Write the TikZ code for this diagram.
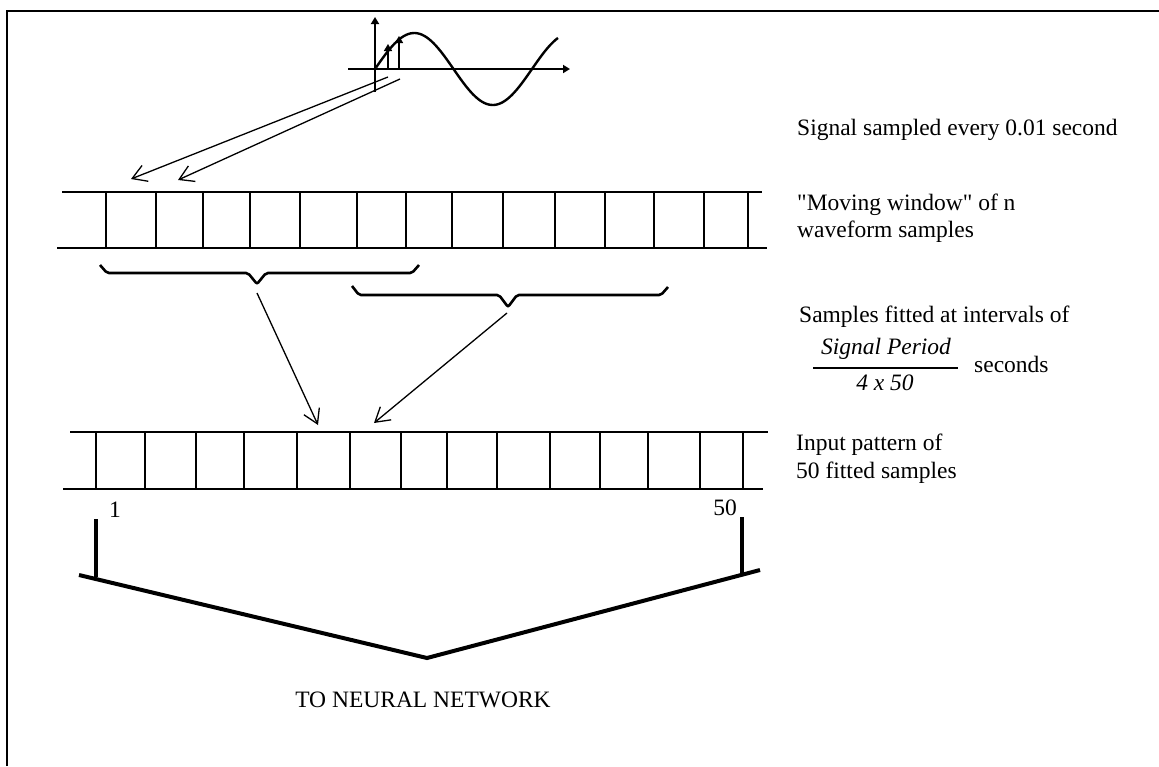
\documentclass[tikz,border=0pt]{standalone}
\usepackage{fontspec}
\setmainfont{Liberation Serif}
\usetikzlibrary{arrows.meta,calc}

\begin{document}
\begin{tikzpicture}[x=1pt, y=-1pt,
  lbl/.style={font=\fontsize{23.5}{27}\selectfont, inner sep=0pt, anchor=base west},
  frac/.style={lbl, font=\fontsize{23.5}{27}\selectfont\itshape, anchor=base},
  band/.style={line width=1.8pt},
  cell/.style={line width=1.6pt},
  barb/.style={-{Straight Barb[length=14pt,width=17pt]}, line width=1.3pt},
  axis/.style={-{Triangle[length=7pt,width=8pt]}, line width=2.4pt},
  brc/.style={line width=2.6pt, rounded corners=2pt},
  feed/.style={line width=4pt},
]
  \useasboundingbox (0,0) rectangle (1159,766);
  \draw[line width=2.4pt] (7,766) -- (7,11) -- (1159,11);

  % sampled signal
  \draw[axis] (348,69) -- (570,69);
  \draw[axis, line width=1.8pt] (375,92) -- (375,17);
  \draw[line width=2.4pt, domain=376:558, samples=80, smooth] plot (\x, {69-36*sin((\x-375)/157*360)});
  \draw[axis, line width=1.6pt] (388,69) -- (388,44);
  \draw[axis, line width=1.6pt] (399,69) -- (399,36);

  \coordinate (s1) at (388,77);
  \coordinate (s2) at (400,79);
  \coordinate (w1) at (131,179);
  \coordinate (w2) at (178,180);
  \draw[barb] (s1) -- (w1);
  \draw[barb] (s2) -- (w2);

  % moving window
  \draw[band] (62,192) -- (762,192);
  \draw[band] (57,248) -- (767,248);
  \foreach \cx in {106,156,203,250,300,357,406,452,503,555,605,654,704,748}
    \draw[cell] (\cx,192) -- (\cx,248);

  % braces
  \draw[brc] (100,265) -- (107,273) -- (248,273) -- (257,284) -- (266,273) -- (412,273) -- (419,265);
  \draw[brc] (352,286) -- (359,295) -- (499,295) -- (508,307) -- (517,295) -- (661,295) -- (668,287);
  \coordinate (b1) at (257,293);
  \coordinate (b2) at (507,313);
  \coordinate (i1) at (318,425);
  \coordinate (i2) at (374,423);
  \draw[barb] (b1) -- (i1);
  \draw[barb] (b2) -- (i2);

  % input pattern
  \draw[band] (70,432) -- (768,432);
  \draw[band] (63,489) -- (763,489);
  \foreach \cx in {96,145,196,244,297,350,401,447,497,550,600,648,700,743}
    \draw[cell] (\cx,432) -- (\cx,489);

  % to the network
  \draw[feed] (96,519) -- (96,577);
  \draw[feed] (742,517) -- (742,573);
  \draw[feed] (79,575) -- (427,658) -- (760,570);

  % labels
  \node[lbl] (sig) at (797,135) {Signal sampled every 0.01 second};
  \node[lbl] (win) at (797,210) {\textquotedbl Moving window\textquotedbl{} of n};
  \node[lbl] (winb) at (797,237) {waveform samples};
  \node[lbl] (fit) at (799,322) {Samples fitted at intervals of};
  \node[frac] (num) at (886,354) {Signal Period};
  \node[frac] (den) at (885,390) {4 x 50};
  \draw[line width=1.4pt] (813,368) -- (958,368);
  \node[lbl] (sec) at (974,372) {seconds};
  \node[lbl] (inp) at (796,450) {Input pattern of};
  \node[lbl] (inpb) at (796,478) {50 fitted samples};
  \node[lbl, anchor=base] (first) at (115,517) {1};
  \node[lbl, anchor=base] (last) at (725,515) {50};
  \node[lbl, anchor=base] (nn) at (423,707) {TO NEURAL NETWORK};
\end{tikzpicture}
\end{document}
